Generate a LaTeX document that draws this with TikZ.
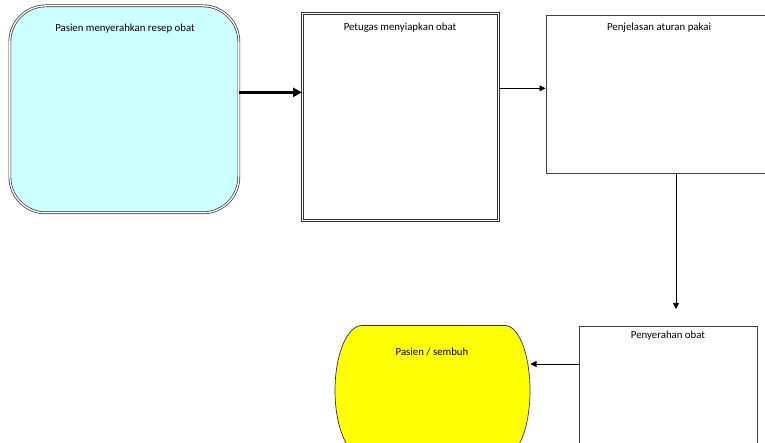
\documentclass[tikz,border=0pt]{standalone}
\usepackage{fontspec}
\setmainfont{Carlito}
\usetikzlibrary{arrows.meta}
\definecolor{lcyan}{HTML}{CCFFFF}
\definecolor{lyellow}{HTML}{FFFF00}
\begin{document}
\begin{tikzpicture}[x=1pt,y=-1pt,
  font=\fontsize{10.8}{13}\selectfont,
  dbl/.style={draw=black!80, double=white, double distance=1.3pt, line width=0.7pt, inner sep=0pt},
  plainbox/.style={draw=black!75, line width=0.8pt, inner sep=0pt},
  lbl/.style={anchor=north, inner sep=0pt, text=black},
  conn/.style={-{Triangle[length=6pt,width=6pt]}, line width=0.6pt},
  bigconn/.style={-{Triangle[length=9pt,width=9pt]}, line width=2.6pt}]
\useasboundingbox (0,0) rectangle (765,443);
\clip (0,0) rectangle (765,443);
% boxes
\node[dbl, fill=lcyan, rounded corners=36pt, minimum width=229pt, minimum height=207pt, anchor=north west] (a) at (9.5,5.5) {};
\node[dbl, minimum width=196pt, minimum height=207pt, anchor=north west] (b) at (302,13.5) {};
\node[plainbox, minimum width=230pt, minimum height=158pt, anchor=north west] (c) at (545.5,15.5) {};
\node[plainbox, minimum width=178pt, minimum height=140pt, anchor=north west] (d) at (578.5,325.5) {};
% terminal shape
\draw[draw=black!80, line width=0.7pt, fill=lyellow]
  (362,325.5) -- (505,325.5)
  arc[start angle=-90, end angle=90, x radius=25, y radius=65]
  -- (362,455.5)
  arc[start angle=90, end angle=270, x radius=27, y radius=65] -- cycle;
\coordinate (e) at (432,390);
% labels
\node[lbl] (ta) at (125,24) {Pasien menyerahkan resep obat};
\node[lbl] (tb) at (400,22.5) {Petugas menyiapkan obat};
\node[lbl] (tc) at (659,22.5) {Penjelasan aturan pakai};
\node[lbl] (td) at (668,331) {Penyerahan obat};
\node[lbl] (te) at (432,347.5) {Pasien / sembuh};
% connectors
\coordinate (dtip) at (676,309);
\coordinate (etip) at (530.5,364);
\draw[bigconn] ([yshift=17pt]a.east) -- ([yshift=17pt]a.east -| b.west);
\draw[conn] ([yshift=29pt]b.east) -- ([yshift=29pt]b.east -| c.west);
\draw[conn] (c.south -| dtip) -- (dtip);
\draw[conn] (d.west |- etip) -- (etip);
\end{tikzpicture}
\end{document}
